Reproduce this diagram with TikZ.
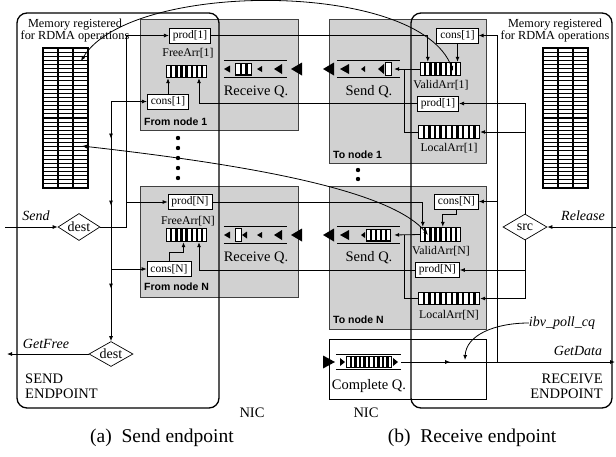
\documentclass[tikz,border=0pt]{standalone}
\usepackage{fontspec}
\setmainfont{Liberation Serif}
\newfontfamily\labsans{Liberation Sans}
\usetikzlibrary{arrows.meta,calc,shapes.geometric,decorations.markings}

\definecolor{nicgray}{RGB}{209,209,209}

% array of cells: name, x1, y1, x2, y2, number of cells
\newcommand{\cellrow}[6]{%
  \node[arrbox, minimum width={#4-#2}, minimum height={#5-#3}] (#1) at ({(#2+#4)/2},{(#3+#5)/2}) {};
  \pgfmathsetmacro\cellw{(#4-#2)/#6}%
  \foreach \k in {1,...,#6}{%
    \fill[white] ({#2+(\k-1)*\cellw+1.3},{#3+1.4}) rectangle ({#2+\k*\cellw-1.1},{#5-1.4});}%
}
% registered memory block: name, x1, y1, x2, y2
\newcommand{\memgrid}[5]{%
  \node[draw, line width=1.3pt, inner sep=0, minimum width={#4-#2}, minimum height={#5-#3}] (#1) at ({(#2+#4)/2},{(#3+#5)/2}) {};
  \foreach \c in {1,2} \draw[line width=1.3pt] ({#2+\c*(#4-#2)/3},#3) -- ({#2+\c*(#4-#2)/3},#5);
  \foreach \r in {1,...,33} \draw[line width=1.1pt] (#2,{#3+\r*(#5-#3)/34}) -- (#4,{#3+\r*(#5-#3)/34});
}
% filled triangles: tip x, y, length, half height
\newcommand{\ltri}[4]{\fill (#1,#2) -- ++(#3,#4) -- ++(0,{-2*#4}) -- cycle;}
\newcommand{\rtri}[4]{\fill (#1,#2) -- ++(-#3,#4) -- ++(0,{-2*#4}) -- cycle;}

\tikzset{
  conn/.style={line width=0.8pt},
  tip/.style={-{Latex[length=5pt,width=4pt]}},
  tips/.style={{Latex[length=5pt,width=4pt]}-{Latex[length=5pt,width=4pt]}},
  midtip/.style={postaction={decorate}, decoration={markings,
      mark=at position #1 with {\arrow{Latex[length=5pt,width=4pt]}}}},
  gbox/.style={fill=nicgray, draw=black!75, line width=0.5pt, inner sep=0},
  endpt/.style={draw, rounded corners=10pt, line width=1.3pt, inner sep=0},
  arrbox/.style={fill=black, inner sep=0, draw=none},
  reg/.style={draw, fill=white, line width=0.7pt, inner xsep=3.5pt, inner ysep=0pt,
      minimum height=15pt, font=\fontsize{11.5}{12}\selectfont},
  arrlab/.style={inner sep=0, font=\fontsize{11.8}{12}\selectfont},
  memlab/.style={inner sep=0, align=center, font=\fontsize{12.3}{12}\selectfont},
  dia/.style={diamond, draw, fill=white, line width=0.7pt, inner sep=0, aspect=1.6,
      font=\fontsize{14}{15}\selectfont},
  qn/.style={inner sep=0, minimum height=16pt, draw=none},
  qline/.style={line width=0.9pt},
  qlabel/.style={inner sep=0, font=\fontsize{14.5}{16}\selectfont},
  boxtag/.style={inner sep=0, anchor=west, font=\labsans\bfseries\fontsize{10.5}{12}\selectfont},
  sig/.style={inner sep=0, font=\itshape\fontsize{14}{16}\selectfont},
  eptitle/.style={inner sep=0, font=\fontsize{14.5}{15}\selectfont},
  capt/.style={inner sep=0, font=\fontsize{19.5}{22}\selectfont},
}

\begin{document}
\begin{tikzpicture}[x=1pt,y=-1pt]
\useasboundingbox (0,0) rectangle (616,456);

% NIC queue-pair areas
\node[gbox, minimum width=158pt, minimum height=111pt] (from1) at (219,74.5) {};
\node[gbox, minimum width=158pt, minimum height=111pt] (fromN) at (219,241.5) {};
\node[gbox, minimum width=157pt, minimum height=144pt] (to1) at (407.5,91) {};
\node[gbox, minimum width=157pt, minimum height=143pt] (toN) at (407.5,257.5) {};
\node[draw, line width=0.7pt, fill=white, inner sep=0, minimum width=157pt, minimum height=60pt] (cqbox) at (407.5,369) {};

\node[boxtag] (from1tag) at (144,122) {From node 1};
\node[boxtag] (fromNtag) at (144,287) {From node N};
\node[boxtag] (to1tag) at (333,155) {To node 1};
\node[boxtag] (toNtag) at (333,320) {To node N};

% endpoints
\node[endpt, minimum width=202pt, minimum height=395pt] (sendep) at (118,210.5) {};
\node[endpt, minimum width=201pt, minimum height=395pt] (recvep) at (511.5,210.5) {};

% registered memory
\memgrid{memL}{43}{48}{88}{188}
\memgrid{memR}{543}{48}{588}{188}
\node[memlab] (memLlab) at (75,31) {Memory registered\\for RDMA operations};
\node[memlab] (memRlab) at (555,31) {Memory registered\\for RDMA operations};

% send endpoint registers and arrays
\node[reg] (prod1L) at (190,35.5) {prod[1]};
\node[arrlab] (free1lab) at (188,53) {FreeArr[1]};
\cellrow{free1}{166}{65}{207}{78}{8}
\node[reg] (cons1L) at (168,101.5) {cons[1]};
\node[reg] (prodNL) at (190,202) {prod[N]};
\node[arrlab] (freeNlab) at (188,221) {FreeArr[N]};
\cellrow{freeN}{166}{228}{207}{242}{8}
\node[reg] (consNL) at (169,269) {cons[N]};

% receive endpoint registers and arrays
\node[reg] (cons1R) at (457.5,35.5) {cons[1]};
\cellrow{va1}{420}{62}{461}{76}{8}
\node[arrlab] (va1lab) at (441,85) {ValidArr[1]};
\node[reg] (prod1R) at (438,103.5) {prod[1]};
\cellrow{la1}{418}{125}{480}{139}{11}
\node[arrlab] (la1lab) at (449,148) {LocalArr[1]};
\node[reg] (consNR) at (456.5,201.5) {cons[N]};
\cellrow{vaN}{420}{227}{461}{242}{8}
\node[arrlab] (vaNlab) at (441,251) {ValidArr[N]};
\node[reg] (prodNR) at (437.5,270) {prod[N]};
\cellrow{laN}{418}{292}{480}{305}{11}
\node[arrlab] (laNlab) at (449,315) {LocalArr[N]};

% decision points
\node[dia, minimum width=42pt, minimum height=27pt] (dest1) at (79,227) {dest};
\node[dia, minimum width=44pt, minimum height=25pt] (dest2) at (111,354) {dest};
\node[dia, minimum width=44pt, minimum height=26pt] (src) at (525,227) {src};

% queues
\node[qn, minimum width=63pt] (rq1) at (255.5,69) {};
\node[qn, minimum width=63pt] (sq1) at (368.5,69) {};
\node[qn, minimum width=63pt] (rqN) at (255.5,235) {};
\node[qn, minimum width=63pt] (sqN) at (368.5,235) {};
\node[qn, minimum width=65pt, minimum height=14pt] (cqq) at (368.5,362) {};
\foreach \q in {rq1,sq1,rqN,sqN,cqq}
  \draw[qline] (\q.north west) -- (\q.north east) (\q.south west) -- (\q.south east);

% receive queue 1
\ltri{224}{69}{6}{3.5}
\cellrow{rq1c}{235}{62.5}{252}{75.5}{3}
\ltri{257}{69}{5}{3}
\ltri{274}{69}{8}{5}
% send queue 1
\ltri{340}{69}{9}{5}
\ltri{361}{69}{4}{3}
\ltri{378}{69}{6}{5}
\node[draw, fill=white, line width=0.9pt, inner sep=0, minimum width=6pt, minimum height=13pt] (sq1c) at (388,69) {};
% receive queue N
\ltri{224}{235}{6}{3.5}
\node[draw, fill=white, line width=0.9pt, inner sep=0, minimum width=6pt, minimum height=13pt] (rqNc) at (238,235) {};
\ltri{242}{235}{5}{3.5}
\ltri{257}{235}{5}{3}
\ltri{274}{235}{8}{5}
% send queue N
\ltri{340}{235}{9}{5}
\ltri{361}{235}{4}{3}
\cellrow{sqNc}{366}{228.5}{391}{241.5}{5}
% completion queue
\rtri{345}{362}{5}{4}
\cellrow{cqc}{346}{356}{392}{368}{10}
\rtri{398}{362}{5}{4}

% network transfers
\ltri{291}{69}{11}{6.5}
\ltri{323}{69}{11}{6.5}
\ltri{291}{235}{11}{6.5}
\ltri{323}{235}{11}{6.5}
\rtri{335}{362}{12}{6.5}

\node[qlabel] (rq1lab) at (256,92) {Receive Q.};
\node[qlabel] (sq1lab) at (369,92) {Send Q.};
\node[qlabel] (rqNlab) at (256,258) {Receive Q.};
\node[qlabel] (sqNlab) at (369,258) {Send Q.};
\node[qlabel] (cqlab) at (369,386) {Complete Q.};

% ellipsis dots
\foreach \yy in {138,148,158,168,178} \fill (178,\yy) circle (2.2);
\fill (358,170) circle (2.2);
\fill (358,179) circle (2.2);

% signal labels
\node[sig] (sendlab) at (36,216) {Send};
\node[sig] (getfreelab) at (46,344) {GetFree};
\node[sig] (releaselab) at (583,216) {Release};
\node[sig] (getdatalab) at (578,351) {GetData};
\node[sig] (polllab) at (562,323) {ibv\_poll\_cq};

\node[eptitle, align=left, anchor=west] (sendtitle) at (25,386.5) {SEND\\ENDPOINT};
\node[eptitle, align=right, anchor=east] (recvtitle) at (603,386.5) {RECEIVE\\ENDPOINT};
\node[eptitle] (nicA) at (252,413) {NIC};
\node[eptitle] (nicB) at (366,413) {NIC};
\node[capt] (captA) at (162,438) {(a)\enspace Send endpoint};
\node[capt] (captB) at (472,438) {(b)\enspace Receive endpoint};

% free ends and bus positions
\coordinate (sendin) at (5,227);
\coordinate (getfree) at (7,354);
\coordinate (relin) at (616,227);
\coordinate (gdout) at (615,362);
\coordinate (pollpt) at (465,360);
\coordinate (xA) at (126,0);
\coordinate (xD) at (497,0);
\coordinate (memA) at (81,61);
\coordinate (memB) at (82,146);
\coordinate (va1p) at (453,71);
\coordinate (vaNp) at (428,235);

% send endpoint wiring
\draw[conn, tip] (sendin) -- (dest1.west);
\draw[conn, tip] (dest1.east) -| (xA |- prod1L.west) -- (prod1L.west);
\draw[conn, tip, postaction={decorate}, decoration={markings,
    mark=at position 85pt with {\arrow{Latex[length=5pt,width=4pt]}},
    mark=at position 168pt with {\arrow{Latex[length=5pt,width=4pt]}}}]
  (xA |- dest1.east) -- (xA |- prodNL.west) -- (prodNL.west);
\draw[conn, tips, postaction={decorate}, decoration={markings,
    mark=at position 73pt with {\arrow{Latex[length=5pt,width=4pt]}},
    mark=at position 140pt with {\arrow{Latex[length=5pt,width=4pt]}},
    mark=at position 223pt with {\arrow{Latex[length=5pt,width=4pt]}}}]
  (cons1L.west) -| (dest2.north);
\draw[conn, tip] (dest2.north |- consNL.west) -- (consNL.west);
\draw[conn, tip] (dest2.west) -- (getfree);
\draw[conn, tip] (cons1L.north) -- (cons1L.north |- free1.south);
\draw[conn, tip] (consNL.north) -- ++(0,-9) -| ($(freeN.south)+(-3,0)$);

% NIC-to-NIC register updates
\draw[conn, tip] (prod1R.west) -| ($(free1.south)+(12.5,0)$);
\draw[conn, tip] (prodNR.west) -| ($(freeN.south)+(12.5,0)$);
\draw[conn, tip] (prod1L.east) -| ($(va1.north west)+(8,0)$);
\draw[conn, tip] (prodNL.east) -| ($(vaN.north west)+(3,0)$);

% receive endpoint wiring
\draw[conn, tip] (cons1R.south) -- (cons1R.south |- va1.north);
\draw[conn, tip] (consNR.south) -- ++(0,5) -| ($(vaN.north west)+(23,0)$);
\draw[conn, tip] (va1.west) -- ($(sq1.east)+(-6,0)$);
\draw[conn] (la1.west) -| ($(va1.west)+(-15,0)$);
\draw[conn, tip] (vaN.west) -- ($(sqN.east)+(-6,0)$);
\draw[conn] (laN.west) -| ($(vaN.west)+(-15,0)$);
\draw[conn, tip] (xD |- gdout) |- (cons1R.east);
\draw[conn, tip] (xD |- consNR.east) -- (consNR.east);
\draw[conn, tip] (relin) -- (src.east);
\draw[conn, tip] (src.north) |- (prod1R.east);
\draw[conn, tip] (src.north |- la1.east) -- (la1.east);
\draw[conn, tip] (src.south) |- (laN.east);
\draw[conn, tip] (src.south |- prodNR.east) -- (prodNR.east);
\draw[conn, tip, midtip=49pt] (cqq.east) -- (gdout);
\draw[conn, tip] (polllab.west) .. controls (495,323) and (466,335) .. (pollpt);

% pointers into registered memory
\draw[conn, tips] (memA) .. controls (130,-20) and (420,-20) .. (va1p);
\draw[conn, tips] (memB) .. controls (250,165) and (390,190) .. (vaNp);
\end{tikzpicture}
\end{document}
